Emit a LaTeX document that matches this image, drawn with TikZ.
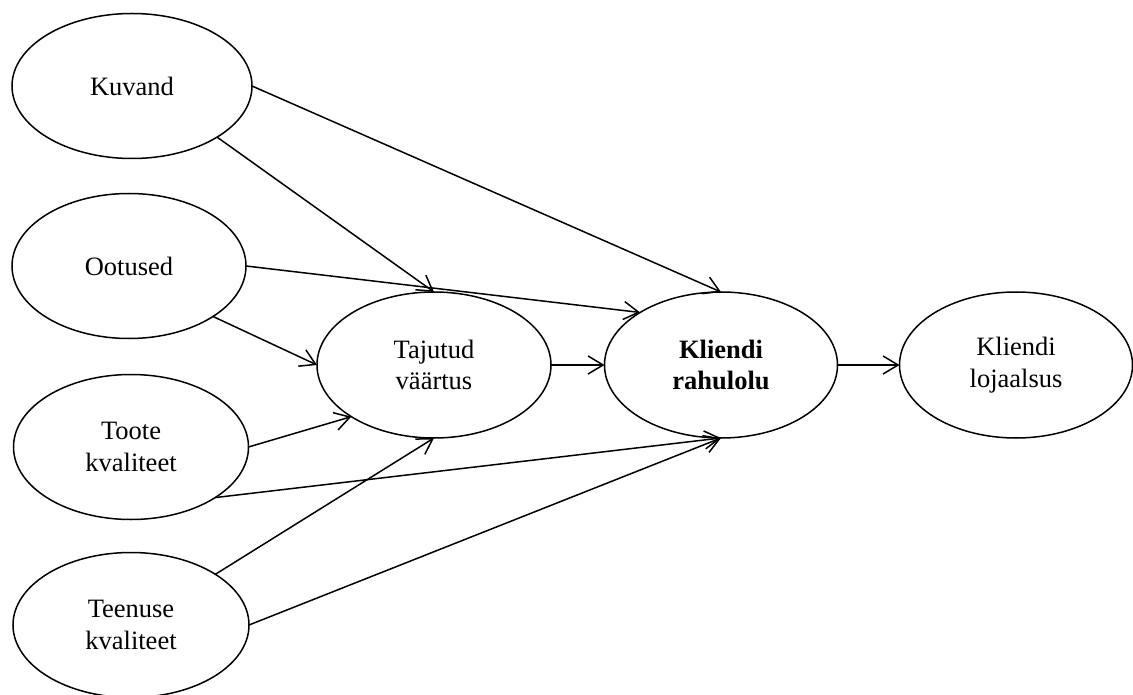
\documentclass[tikz,border=0pt]{standalone}
\usepackage{fontspec}
\setmainfont{Liberation Serif}
\usetikzlibrary{shapes.geometric,arrows.meta}
\begin{document}
\begin{tikzpicture}[x=1pt,y=-1pt,
  oval/.style={draw,ellipse,line width=1.5pt,inner sep=0pt,outer sep=0pt,align=center,
    font=\fontsize{26.5}{31.8}\selectfont},
  link/.style={line width=1.5pt,-{Straight Barb[length=15pt,width=18pt,line width=1.5pt]}}]
\useasboundingbox (0,0) rectangle (1133,695);
\node[oval,minimum width=240pt,minimum height=145pt] (K) at (132,86) {Kuvand};
\node[oval,minimum width=234pt,minimum height=145pt] (O) at (129,266) {Ootused};
\node[oval,minimum width=235pt,minimum height=145pt] (T) at (131,447) {Toote\\kvaliteet};
\node[oval,minimum width=236pt,minimum height=145pt] (S) at (131,625) {Teenuse\\kvaliteet};
\node[oval,minimum width=234pt,minimum height=146pt] (V) at (434,365) {Tajutud\\väärtus};
\node[oval,minimum width=233pt,minimum height=146pt] (R) at (721,365) {\bfseries Kliendi\\\bfseries rahulolu};
\node[oval,minimum width=233pt,minimum height=146pt] (L) at (1016,365) {Kliendi\\lojaalsus};
\draw[link] (K.east) -- (R.north);
\draw[link] (K.-31) -- (V.north);
\draw[link] (O.east) -- (R.147.8);
\draw[link] (O.-31.6) -- (V.west);
\draw[link] (V.east) -- (R.west);
\draw[link] (T.east) -- (V.212);
\draw[link] (T.-31.6) -- (R.south);
\draw[link] (S.31.6) -- (V.south);
\draw[link] (S.east) -- (R.south);
\draw[link] (R.east) -- (L.west);
\end{tikzpicture}
\end{document}
